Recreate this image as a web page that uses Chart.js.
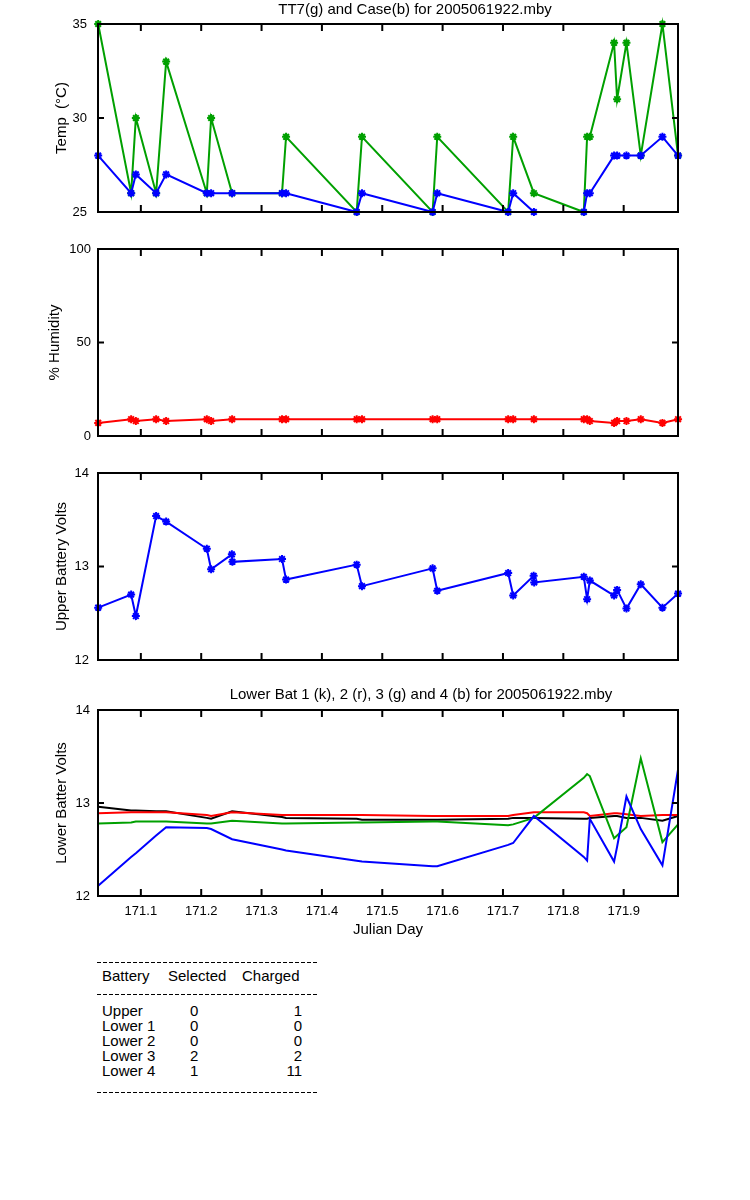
<!DOCTYPE html>
<html>
<head>
<meta charset="utf-8">
<script src="https://cdn.jsdelivr.net/npm/chart.js@4.4.1/dist/chart.umd.min.js"></script>
<style>
body { margin: 0; background: #fff; width: 750px; height: 1200px; position: relative; font-family: "Liberation Sans", Arial, sans-serif; }
canvas { position: absolute; left: 0; }
.dash { position: absolute; left: 97px; width: 220px; height: 1px; background: repeating-linear-gradient(to right, #000 0 4px, transparent 4px 6px); }
.t { position: absolute; font-size: 15px; line-height: 16px; white-space: nowrap; color: #000; }
</style>
</head>
<body>
<canvas id="tempChart" width="750" height="232" style="top:0px"></canvas>
<canvas id="humChart" width="750" height="227" style="top:229px"></canvas>
<canvas id="upperChart" width="750" height="227" style="top:453px"></canvas>
<canvas id="lowerChart" width="750" height="286" style="top:670px"></canvas>
<div id="table"></div>
<script>
// Julian day of each sample
const days = [171.0293, 171.0839, 171.0917, 171.1253, 171.1419, 171.2093, 171.2164, 171.2512, 171.3339, 171.3406,
    171.4576, 171.4664, 171.5834, 171.5911, 171.7086, 171.7169, 171.7512, 171.8339, 171.8394, 171.8439,
    171.8841, 171.8891, 171.9046, 171.9283, 171.9642, 171.9901];

const tt7Temp = [35, 26, 30, 26, 33, 26, 30, 26, 26, 29, 25, 29, 25, 29, 25, 29, 26, 25, 29, 29, 34, 31, 34, 28, 35, 28];
const caseTemp = [28, 26, 27, 26, 27, 26, 26, 26, 26, 26, 25, 26, 25, 26, 25, 26, 25, 25, 26, 26, 28, 28, 28, 28, 29, 28];
const humidity = [7, 9, 8, 9, 8, 9, 8, 9, 9, 9, 9, 9, 9, 9, 9, 9, 9, 9, 9, 8, 7, 8, 8, 9, 7, 9];

// upper battery has a few doubled samples
const upDays = [171.0293, 171.0839, 171.0917, 171.1253, 171.1419, 171.2093, 171.2164, 171.2508, 171.2517, 171.3339,
    171.3406, 171.4576, 171.4664, 171.5834, 171.5911, 171.7086, 171.7169, 171.7508, 171.7517, 171.8339,
    171.8394, 171.8439, 171.8841, 171.8891, 171.9046, 171.9283, 171.9642, 171.9901];
const upperVolts = [12.56, 12.70, 12.47, 13.54, 13.48, 13.19, 12.97, 13.13, 13.05, 13.08,
    12.86, 13.02, 12.79, 12.98, 12.74, 12.93, 12.69, 12.90, 12.83, 12.89,
    12.65, 12.85, 12.69, 12.75, 12.55, 12.81, 12.56, 12.71];

const lower1 = [12.96, 12.92, 12.92, 12.91, 12.91, 12.84, 12.83, 12.91, 12.85, 12.84, 12.83, 12.82, 12.82, 12.82, 12.83, 12.84, 12.84, 12.83, 12.83, 12.84, 12.86, 12.86, 12.84, 12.84, 12.81, 12.86];
const lower2 = [12.89, 12.90, 12.90, 12.90, 12.90, 12.87, 12.86, 12.90, 12.87, 12.87, 12.87, 12.87, 12.86, 12.86, 12.86, 12.87, 12.90, 12.90, 12.89, 12.86, 12.89, 12.89, 12.88, 12.86, 12.87, 12.87];
const lower3 = [12.78, 12.79, 12.80, 12.80, 12.80, 12.78, 12.78, 12.81, 12.78, 12.78, 12.79, 12.79, 12.80, 12.80, 12.76, 12.77, 12.84, 13.27, 13.31, 13.29, 12.62, 12.65, 12.74, 13.48, 12.58, 12.77];
const lower4 = [12.11, 12.42, 12.46, 12.65, 12.74, 12.73, 12.72, 12.61, 12.50, 12.49, 12.38, 12.37, 12.32, 12.32, 12.55, 12.57, 12.86, 12.42, 12.38, 12.83, 12.37, 12.53, 13.07, 12.72, 12.33, 13.36];

const xTickVals = [171.1, 171.2, 171.3, 171.4, 171.5, 171.6, 171.7, 171.8, 171.9];
const tempTicks = [25, 30, 35];
const humTicks = [0, 50, 100];
const voltTicks = [12, 13, 14];

const batteryNames = ['Upper', 'Lower 1', 'Lower 2', 'Lower 3', 'Lower 4'];
const selectedCounts = [0, 0, 0, 2, 1];
const chargedCounts = [1, 0, 0, 2, 11];

const GREEN = 'rgb(0,160,0)';
const BLUE = 'rgb(0,0,255)';
const RED = 'rgb(255,0,0)';
const FONT = 'Liberation Sans';

function pts(xs, ys) {
    return xs.map((x, i) => ({ x: x, y: ys[i] }));
}

function markerSet(xs, ys, color) {
    return {
        data: pts(xs, ys),
        borderColor: color,
        backgroundColor: color,
        borderWidth: 2,
        pointStyle: 'star',
        pointRadius: 4,
        pointBorderWidth: 2,
        clip: false
    };
}

function lineSet(ys, color) {
    return {
        data: pts(days, ys),
        borderColor: color,
        borderWidth: 2,
        pointRadius: 0,
        clip: false
    };
}

// box + inward ticks + optional title
function framePlugin(yTicks, title, titleX, titleY) {
    return {
        id: 'frame',
        afterDraw(chart) {
            const ctx = chart.ctx, a = chart.chartArea, sx = chart.scales.x, sy = chart.scales.y;
            ctx.save();
            ctx.strokeStyle = '#000';
            ctx.lineWidth = 2;
            ctx.strokeRect(a.left, a.top, a.right - a.left, a.bottom - a.top);
            ctx.beginPath();
            xTickVals.forEach(function (v) {
                const px = sx.getPixelForValue(v);
                ctx.moveTo(px, a.bottom); ctx.lineTo(px, a.bottom - 7);
                ctx.moveTo(px, a.top); ctx.lineTo(px, a.top + 7);
            });
            yTicks.slice(1, -1).forEach(function (v) {
                const py = sy.getPixelForValue(v);
                ctx.moveTo(a.left, py); ctx.lineTo(a.left + 6, py);
                ctx.moveTo(a.right, py); ctx.lineTo(a.right - 6, py);
            });
            ctx.stroke();
            if (title) {
                ctx.font = '15px "' + FONT + '"';
                ctx.fillStyle = '#000';
                ctx.textAlign = 'center';
                ctx.textBaseline = 'middle';
                ctx.fillText(title, titleX, titleY);
            }
            ctx.restore();
        }
    };
}

function makePanel(id, cfg) {
    const showX = !!cfg.showX;
    return new Chart(document.getElementById(id), {
        type: 'line',
        data: { datasets: cfg.datasets },
        options: {
            responsive: false,
            animation: false,
            layout: { padding: { top: cfg.padTop, bottom: cfg.padBottom, left: 0, right: 72 } },
            plugins: { legend: { display: false }, tooltip: { enabled: false } },
            elements: { line: { tension: 0 } },
            scales: {
                x: {
                    type: 'linear',
                    min: 171.029,
                    max: 171.99,
                    display: showX,
                    grid: { display: false, drawTicks: false },
                    border: { display: false },
                    afterBuildTicks: function (s) { s.ticks = xTickVals.map(v => ({ value: v })); },
                    afterFit: function (s) { s.height = showX ? 50 : 0; },
                    ticks: {
                        autoSkip: false, maxRotation: 0, padding: 8, color: '#000',
                        font: { family: FONT, size: 13 },
                        callback: v => v.toFixed(1)
                    },
                    title: {
                        display: true, text: 'Julian Day', color: '#000',
                        font: { family: FONT, size: 15 }, padding: { top: 0, bottom: 7 }
                    }
                },
                y: {
                    min: cfg.yTicks[0],
                    max: cfg.yTicks[cfg.yTicks.length - 1],
                    grid: { display: false, drawTicks: false },
                    border: { display: false },
                    afterBuildTicks: function (s) { s.ticks = cfg.yTicks.map(v => ({ value: v })); },
                    afterFit: function (s) { s.width = 98; },
                    ticks: { padding: cfg.tickPad, color: '#000', font: { family: FONT, size: 13 } },
                    title: {
                        display: true, text: cfg.yTitle, color: '#000',
                        font: { family: FONT, size: 15 }, padding: { top: cfg.titlePad, bottom: 0 }
                    }
                }
            }
        },
        plugins: [framePlugin(cfg.yTicks, cfg.title, cfg.titleX, cfg.titleY)]
    });
}

makePanel('tempChart', {
    datasets: [markerSet(days, caseTemp, BLUE), markerSet(days, tt7Temp, GREEN)],
    yTicks: tempTicks, yTitle: 'Temp  (\u00B0C)', titlePad: 53, tickPad: 11,
    padTop: 24, padBottom: 20,
    title: 'TT7(g) and Case(b) for 2005061922.mby', titleX: 415, titleY: 9.5
});

makePanel('humChart', {
    datasets: [markerSet(days, humidity, RED)],
    yTicks: humTicks, yTitle: '% Humidity', titlePad: 46, tickPad: 7,
    padTop: 20, padBottom: 20
});

makePanel('upperChart', {
    datasets: [markerSet(upDays, upperVolts, BLUE)],
    yTicks: voltTicks, yTitle: 'Upper Battery Volts', titlePad: 53, tickPad: 9,
    padTop: 20, padBottom: 20
});

makePanel('lowerChart', {
    datasets: [lineSet(lower4, BLUE), lineSet(lower3, GREEN), lineSet(lower2, RED), lineSet(lower1, '#000')],
    yTicks: voltTicks, yTitle: 'Lower Batter Volts', titlePad: 53, tickPad: 8,
    padTop: 40, padBottom: 10, showX: true,
    title: 'Lower Bat 1 (k), 2 (r), 3 (g) and 4 (b) for 2005061922.mby', titleX: 421, titleY: 25
});

// summary table under the plots
const table = document.getElementById('table');
function addText(txt, left, top, align) {
    const d = document.createElement('div');
    d.className = 't';
    d.textContent = txt;
    d.style.top = top + 'px';
    if (align === 'right') { d.style.right = (750 - left) + 'px'; } else { d.style.left = left + 'px'; }
    table.appendChild(d);
}
function addDash(top) {
    const d = document.createElement('div');
    d.className = 'dash';
    d.style.top = top + 'px';
    table.appendChild(d);
}
addDash(962);
addText('Battery', 102, 967.5);
addText('Selected', 168, 967.5);
addText('Charged', 242, 967.5);
addDash(994);
batteryNames.forEach(function (name, i) {
    const top = 1002.5 + i * 15;
    addText(name, 102, top);
    addText(String(selectedCounts[i]), 190, top);
    addText(String(chargedCounts[i]), 302, top, 'right');
});
addDash(1092);
</script>
</body>
</html>
